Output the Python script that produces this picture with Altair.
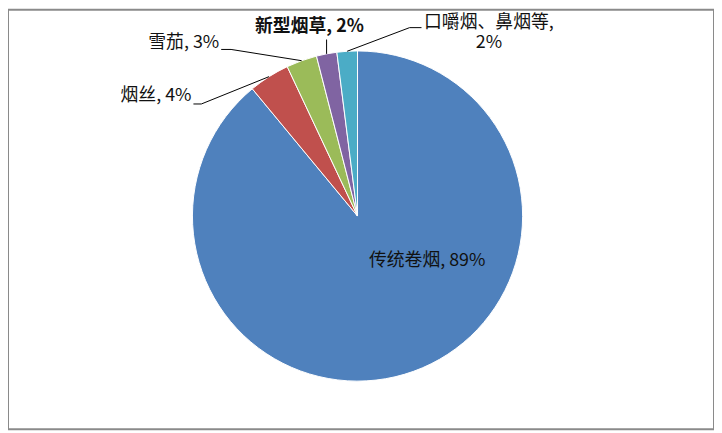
import math
import altair as alt
import pandas as pd

# ---- data ----
categories = ["传统卷烟", "烟丝", "雪茄", "新型烟草", "口嚼烟、鼻烟等"]
shares = [89, 4, 3, 2, 2]
colors = ["#4F81BD", "#C0504D", "#9BBB59", "#8064A2", "#4BACC6"]

# ---- layout (page pixels) ----
W, H = 712, 423          # chart size
OFF = 8                  # page margin
CX, CY, R = 360.5, 216.0, 166.5
FONT = "Noto Sans CJK SC"
FS = 18

label_layout = [
    # (x, y, align, bold)
    (372, 261, "left", False),
    (193, 95, "right", False),
    (221, 42, "right", False),
    (312, 25, "center", True),
    (493, 21, "center", False),
]
leader_layout = {
    1: [(203, 103), (195, 103)],
    2: [(233, 48), (223, 48)],
    3: [(329.3, 38)],
    4: [(413, 26), (425, 26)],
}


def to_u(px):
    return (px - CX) / R


def to_v(py):
    return (CY - py) / R


slices = pd.DataFrame({"cat": categories, "value": shares, "idx": range(len(categories))})

total = sum(shares)
cum = 0.0
mids = []
for s in shares:
    mids.append((cum + s / 2) / total * 2 * math.pi)
    cum += s

rows = []
for i, pts in leader_layout.items():
    rows.append({"id": i, "pt": 0, "u": math.sin(mids[i]), "v": math.cos(mids[i])})
    for k, (px, py) in enumerate(pts):
        rows.append({"id": i, "pt": k + 1, "u": to_u(px), "v": to_v(py)})
leaders = pd.DataFrame(rows)

xscale = alt.Scale(domain=[to_u(OFF), to_u(OFF + W)], zero=False, nice=False)
yscale = alt.Scale(domain=[to_v(OFF + H), to_v(OFF)], zero=False, nice=False)

pie = alt.Chart(slices).mark_arc(outerRadius=R, stroke="white", strokeWidth=1).encode(
    theta=alt.Theta("value:Q", stack=True),
    color=alt.Color("cat:N", scale=alt.Scale(domain=categories, range=colors), legend=None),
    order=alt.Order("idx:Q"),
    x=alt.value(CX - OFF),
    y=alt.value(CY - OFF),
)

lines = alt.Chart(leaders).mark_line(color="black", strokeWidth=1).encode(
    x=alt.X("u:Q", scale=xscale, axis=None),
    y=alt.Y("v:Q", scale=yscale, axis=None),
    detail="id:N",
    order="pt:Q",
)

layers = [pie, lines]
for i, (cat, s) in enumerate(zip(categories, shares)):
    lx, ly, align, bold = label_layout[i]
    if i == 4:
        txt = f"{cat},\n{s}%"
    else:
        txt = f"{cat}, {s}%"
    df = pd.DataFrame({"u": [to_u(lx)], "v": [to_v(ly)], "t": [txt]})
    layers.append(
        alt.Chart(df).mark_text(
            align=align, baseline="middle", font=FONT, fontSize=FS,
            fontWeight="bold" if bold else "normal", color="#111111",
            lineBreak="\n", lineHeight=21,
        ).encode(
            x=alt.X("u:Q", scale=xscale, axis=None),
            y=alt.Y("v:Q", scale=yscale, axis=None),
            text="t:N",
        )
    )

chart = alt.layer(*layers).properties(
    width=W, height=H, padding=0, autosize=alt.AutoSizeParams(type="none"),
    background="white",
).configure_view(stroke="#8a8a8a", strokeWidth=2)

chart.save("out.html", embed_options={"renderer": "svg", "actions": False})
